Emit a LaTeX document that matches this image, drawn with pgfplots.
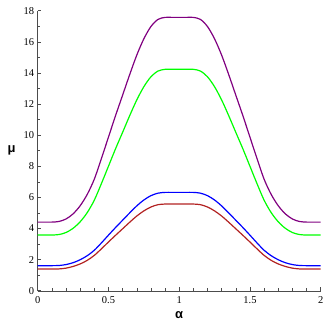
\documentclass[border=0pt]{standalone}
\usepackage{pgfplots}
\pgfplotsset{compat=1.18}
\usepackage{pgfplotstable}
\usepackage{fontspec}
\setmainfont{Liberation Serif}
\newfontfamily\labfont{Liberation Sans}
\definecolor{mpurple}{RGB}{128,0,128}
\definecolor{mgreen}{RGB}{0,255,0}
\definecolor{mblue}{RGB}{0,0,255}
\definecolor{mred}{RGB}{178,34,34}
\pgfplotstableread{
a P G B R
0.00 4.41 3.58 1.61 1.39
0.05 4.41 3.58 1.61 1.39
0.10 4.41 3.58 1.61 1.39
0.15 4.45 3.61 1.62 1.40
0.20 4.61 3.74 1.68 1.45
0.25 4.94 4.01 1.80 1.56
0.30 5.46 4.43 1.99 1.72
0.35 6.19 5.02 2.25 1.95
0.40 7.17 5.82 2.60 2.27
0.45 8.49 6.88 3.07 2.69
0.50 9.87 8.00 3.57 3.13
0.55 11.25 9.12 4.06 3.56
0.60 12.57 10.18 4.53 3.98
0.65 13.89 11.25 5.00 4.40
0.70 15.14 12.26 5.45 4.80
0.75 16.19 13.11 5.83 5.13
0.80 16.98 13.75 6.11 5.38
0.85 17.44 14.12 6.27 5.53
0.90 17.57 14.23 6.32 5.57
0.95 17.57 14.23 6.32 5.57
1.00 17.57 14.23 6.32 5.57
1.05 17.57 14.23 6.32 5.57
1.10 17.57 14.23 6.32 5.57
1.15 17.44 14.12 6.27 5.53
1.20 16.98 13.75 6.11 5.38
1.25 16.19 13.11 5.83 5.13
1.30 15.14 12.26 5.45 4.80
1.35 13.89 11.25 5.00 4.40
1.40 12.57 10.18 4.53 3.98
1.45 11.25 9.12 4.06 3.56
1.50 9.87 8.00 3.57 3.13
1.55 8.49 6.88 3.07 2.69
1.60 7.17 5.82 2.60 2.27
1.65 6.19 5.02 2.25 1.95
1.70 5.46 4.43 1.99 1.72
1.75 4.94 4.01 1.80 1.56
1.80 4.61 3.74 1.68 1.45
1.85 4.45 3.61 1.62 1.40
1.90 4.41 3.58 1.61 1.39
1.95 4.41 3.58 1.61 1.39
2.00 4.41 3.58 1.61 1.39
}\datatable
\begin{document}
\begin{tikzpicture}
\begin{axis}[
  scale only axis,
  width=283bp, height=280bp,
  xmin=0, xmax=2, ymin=0, ymax=18,
  axis lines=left,
  axis line style={-, black!70},
  xtick={0,0.5,1,1.5,2},
  xticklabels={0,0.5,1,1.5,2},
  ytick={0,2,...,18},
  minor x tick num=4,
  minor y tick num=1,
  tick align=inside,
  major tick length=3.5bp,
  minor tick length=2.5bp,
  tick style={black!70, line width=0.5bp},
  /pgf/number format/assume math mode=true,
  ticklabel style={font=\fontsize{10.5}{11}\selectfont},
  xticklabel style={yshift=-2bp},
  xlabel={\labfont\bfseries α},
  ylabel={\labfont\bfseries μ},
  xlabel style={at={(axis description cs:0.5,0)}, anchor=center, yshift=-24.5bp, font=\fontsize{13}{14}\selectfont},
  ylabel style={at={(axis description cs:0,0.5)}, anchor=center, rotate=-90, xshift=-26bp, font=\fontsize{13}{14}\selectfont},
  every axis plot/.append style={line width=1.2bp, smooth, tension=0.5},
  clip=false,
]
\addplot[mpurple] table[x=a, y=P] {\datatable};
\addplot[mgreen] table[x=a, y=G] {\datatable};
\addplot[mblue] table[x=a, y=B] {\datatable};
\addplot[mred] table[x=a, y=R] {\datatable};
\end{axis}
\pgfresetboundingbox
\path ([xshift=-37.7bp,yshift=-36.3bp]current axis.south west) rectangle ([xshift=6.3bp,yshift=10.7bp]current axis.north east);
\end{tikzpicture}
\end{document}
